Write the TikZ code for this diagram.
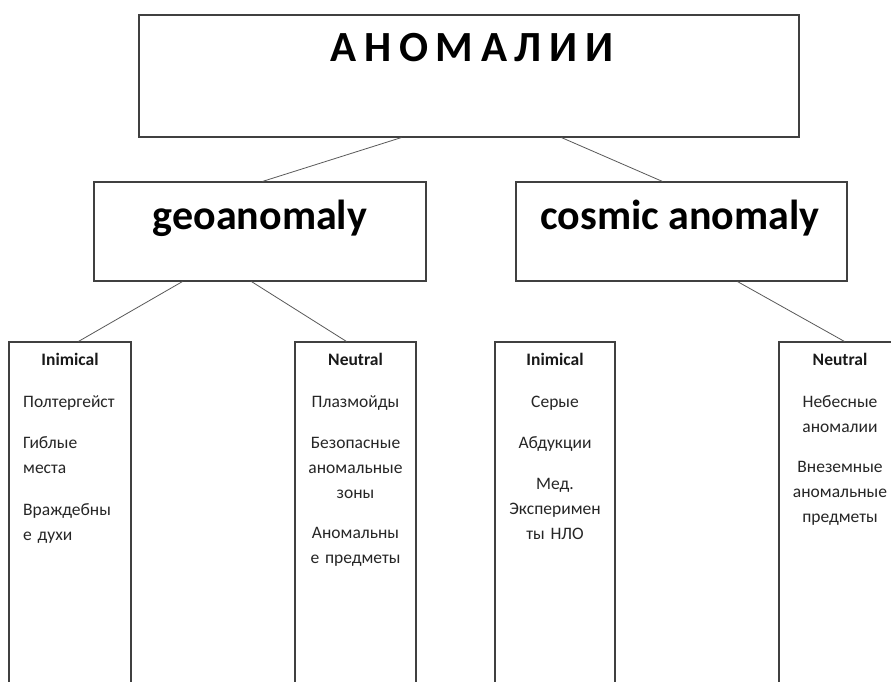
\documentclass[tikz,border=0pt]{standalone}
\usepackage{fontspec}
\setmainfont{Carlito}
\usetikzlibrary{calc}
\begin{document}
\begin{tikzpicture}[x=1pt,y=-1pt,
  box/.style={draw=black!75, line width=1.1pt, rectangle, inner sep=0pt},
  link/.style={draw=black!65, line width=0.8pt},
  items/.style={font=\fontsize{17.5}{25}\selectfont, text width=124pt, align=center, anchor=base, inner sep=0pt, text=black!85},
  head/.style={font=\bfseries\fontsize{17.5}{20}\selectfont, anchor=base, inner sep=0pt, text=black!90},
  big/.style={font=\bfseries\fontsize{42}{42}\selectfont, anchor=base, inner sep=0pt}]
\clip (0,0) rectangle (891,682);
\fill[white] (0,0) rectangle (891,682);
% boxes
\node[box, minimum width=660pt, minimum height=122pt] (top) at (469,76) {};
\node[box, minimum width=332pt, minimum height=99pt] (geo) at (260,231.5) {};
\node[box, minimum width=331pt, minimum height=99pt] (cos) at (681.5,231.5) {};
\node[box, minimum width=122pt, minimum height=360pt] (b1) at (70,522) {};
\node[box, minimum width=121pt, minimum height=360pt] (b2) at (355.5,522) {};
\node[box, minimum width=120pt, minimum height=360pt] (b3) at (555,522) {};
\node[box, minimum width=121pt, minimum height=360pt] (b4) at (839.5,522) {};
% connectors
\draw[link] ($(top.south west)+(263,0)$) -- ($(geo.north west)+(169,0)$);
\draw[link] ($(top.south west)+(423,0)$) -- ($(cos.north west)+(147,0)$);
\draw[link] ($(geo.south west)+(89,0)$) -- ($(b1.north west)+(70,0)$);
\draw[link] ($(geo.south west)+(158,0)$) -- ($(b2.north west)+(52,0)$);
\draw[link] ($(cos.south west)+(222,0)$) -- ($(b4.north west)+(66,0)$);
% texts
\node[font=\bfseries\fontsize{43}{43}\selectfont\addfontfeature{LetterSpace=18}, anchor=base, inner sep=0pt] (title) at (472,62) {АНОМАЛИИ};
\node[big] (geot) at (260,229) {geoanomaly};
\node[big] (cost) at (680,229) {cosmic anomaly};
\node[head] (h1) at (70,365) {Inimical};
\node[head] (h2) at (355.5,365) {Neutral};
\node[head] (h3) at (555,365) {Inimical};
\node[head] (h4) at (840,365) {Neutral};
\node[items, align=left, anchor=base west, text width=110pt] (t1) at (23,407)
  {Полтергейст\\[16pt]Гиблые\\места\\[17pt]Враждебны\\е духи};
\node[items] (t2) at (355.5,407)
  {Плазмойды\\[16pt]Безопасные\\аномальные\\зоны\\[15pt]Аномальны\\е предметы};
\node[items] (t3) at (555,407)
  {Серые\\[16pt]Абдукции\\[16pt]Мед.\\Эксперимен\\ты НЛО};
\node[items] (t4) at (840,407)
  {Небесные\\аномалии\\[15pt]Внеземные\\аномальные\\предметы};
\end{tikzpicture}
\end{document}
